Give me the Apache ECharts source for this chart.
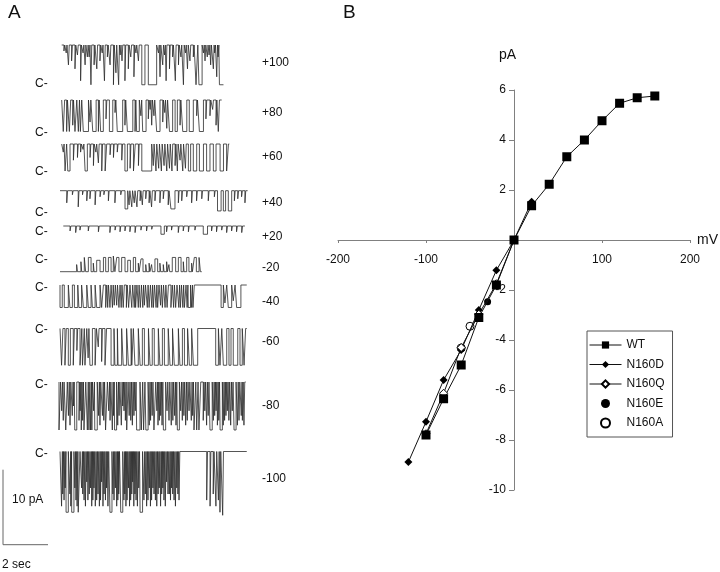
<!DOCTYPE html>
<html><head><meta charset="utf-8">
<script src="https://cdn.jsdelivr.net/npm/echarts@6/dist/echarts.min.js"></script>
<style>html,body{margin:0;padding:0;background:#fff}#c{width:720px;height:572px}</style>
</head><body><div id="c"></div>
<script>
// ---------------- Panel B data (mV, pA) ----------------
const wtV = [-100,-80,-60,-40,-20,0,20,40,60,80,100,120,140,160];
const wtI = [-7.8,-6.35,-5.0,-3.1,-1.8,0,1.37,2.23,3.33,4.0,4.77,5.47,5.69,5.76];
const n160dV = [-120,-100,-80,-60,-40,-20,0,20];
const n160dI = [-8.88,-7.27,-5.6,-4.4,-2.8,-1.21,0,1.53];
const n160qV = [-100,-80,-60,-40,-20,0];
const n160qI = [-7.75,-6.13,-4.3,-2.97,-1.75,0];
const n160eV = [-30];
const n160eI = [-2.47];
const n160aV = [-50,-60];
const n160aI = [-3.45,-4.32];
const seriesNames = ['WT','N160D','N160Q','N160E','N160A'];
const xTicks = [-200,-100,0,100,200];
const yTicks = [-10,-8,-6,-4,-2,0,2,4,6];

// ---------------- Panel A data ----------------
const voltLabels = ['+100','+80','+60','+40','+20','-20','-40','-60','-80','-100'];
const traceAmp = [5.3,4.2,3.6,2.7,1.1,1.9,3.0,4.9,6.4,8.1];   // pA, amplitude of excursions
const traceDir = [1,1,1,1,1,-1,1,1,1,1];                        // 1: excursions drawn downward
const traceDur = [7.19,7.11,7.45,8.34,8.07,6.30,8.30,8.30,8.30,8.30]; // s
// events: [t, depth] brief, or [t0, t1, depth] (s from trace start, depth as fraction of amplitude)
const tr100 = [[0.10,0.15],[0.20,0.2],[0.30,0.5],[0.44,0.4],[0.59,0.6],[0.70,0.25],[0.84,0.9],[0.95,0.2],[1.04,0.5],[1.14,0.3],[1.22,0.3],[1.30,1],[1.44,0.5],[1.56,0.6],[1.70,0.4],[1.80,0.2],[1.90,0.9],[2.03,0.3],[2.15,0.5],[2.30,1],[2.41,0.7],[2.53,1],[2.60,0.25],[2.68,0.4],[2.81,0.9],[2.96,0.6],[3.07,0.3],[3.21,0.8],[3.30,0.2],[3.41,0.4],[3.56,3.70,1],[3.85,4.22,1],[4.30,0.2],[4.37,0.8],[4.49,0.5],[4.57,0.25],[4.64,0.9],[4.79,0.6],[4.93,0.3],[5.05,0.9],[5.19,0.5],[5.30,0.3],[5.41,1],[5.50,0.2],[5.59,0.6],[5.70,0.4],[5.85,0.3],[5.97,6.05,1],[6.10,6.24,1],[6.30,0.2],[6.37,0.4],[6.47,0.3],[6.55,0.25],[6.62,0.5],[6.74,0.6],[6.80,0.2],[6.89,0.8],[6.95,0.3],[7.01,7.19,1]];
const tr80 = [[0.07,0.13,1],[0.22,1],[0.34,0.40,1],[0.49,0.8],[0.59,0.67,1],[0.74,0.79,1],[0.83,0.89,1],[0.96,1.19,1],[1.26,0.7],[1.38,1.53,1],[1.63,1],[1.73,1.85,1],[1.97,0.6],[2.12,2.27,1],[2.37,0.4],[2.47,2.71,1],[2.81,0.8],[2.92,3.16,1],[3.26,1],[3.33,3.45,1],[3.52,0.5],[3.60,3.75,1],[3.85,0.6],[3.93,0.3],[4.00,0.8],[4.10,0.5],[4.22,4.37,1],[4.49,0.7],[4.58,0.4],[4.67,0.9],[4.79,4.93,1],[5.04,5.14,1],[5.26,0.8],[5.38,5.56,1],[5.67,5.85,1],[6.0,0.5],[6.12,6.30,1],[6.41,0.6],[6.59,0.5],[6.71,0.3],[6.86,0.8],[6.96,7.01,1]];
const tr60 = [[0.07,0.3],[0.15,0.22,1],[0.27,0.37,1],[0.52,0.6],[0.70,0.5],[0.84,0.3],[0.95,0.2],[1.04,1.14,1],[1.26,0.5],[1.41,0.8],[1.52,0.3],[1.63,0.7],[1.78,1],[1.93,2.0,1],[2.15,0.4],[2.30,0.5],[2.47,0.3],[2.67,0.6],[2.81,2.92,1],[3.04,0.9],[3.19,3.27,1],[3.41,0.8],[3.56,4.0,1],[4.07,0.8],[4.19,1],[4.31,0.9],[4.43,1],[4.55,0.8],[4.67,1],[4.79,0.9],[4.90,1],[5.04,0.8],[5.14,1],[5.26,0.6],[5.38,1],[5.50,0.9],[5.63,5.73,1],[5.85,6.0,1],[6.12,6.30,1],[6.44,6.59,1],[6.74,6.86,1],[7.04,7.19,1],[7.33,7.41,1]];
const tr40 = [[0.30,0.6],[0.55,0.2],[0.81,0.8],[1.0,0.2],[1.19,0.5],[1.33,0.4],[1.56,0.7],[1.78,0.3],[1.95,0.2],[2.15,0.5],[2.44,0.6],[2.70,0.2],[2.89,3.01,0.9],[3.07,0.7],[3.19,0.8],[3.30,0.6],[3.42,0.8],[3.56,0.5],[3.66,0.7],[3.81,0.4],[3.96,0.6],[4.07,0.8],[4.22,0.5],[4.44,0.6],[4.59,0.4],[4.81,0.7],[4.93,5.11,0.9],[5.26,0.6],[5.41,0.5],[5.63,0.3],[5.85,0.6],[6.07,0.5],[6.30,0.4],[6.59,0.5],[6.86,0.3],[7.0,7.16,1],[7.26,7.36,1],[7.48,7.63,1],[7.75,0.5],[7.90,0.4],[8.07,0.3],[8.22,0.6]];
const tr20 = [[0.30,0.6],[0.55,0.8],[0.74,0.5],[1.11,0.6],[1.56,0.7],[2.07,0.8],[2.30,0.5],[2.52,0.7],[2.74,0.6],[2.96,0.7],[3.19,0.8],[3.45,0.5],[3.70,0.6],[3.93,0.4],[4.34,4.49,1],[4.59,0.7],[4.81,0.5],[5.11,0.8],[5.33,0.6],[5.56,0.7],[5.85,0.5],[6.22,6.41,1],[6.59,0.6],[6.81,0.7],[7.04,0.5],[7.26,0.8],[7.48,0.6],[7.70,0.7],[7.93,0.8]];
const trM20 = [[0.74,0.5],[0.93,0.7],[1.08,1.14,1],[1.26,1.38,1],[1.48,0.6],[1.63,1.78,0.8],[1.93,2.03,1],[2.15,2.27,1],[2.37,2.44,1.1],[2.52,2.62,1],[2.74,2.89,1],[3.01,3.13,0.8],[3.26,3.36,1],[3.48,0.6],[3.60,3.69,0.9],[3.81,0.5],[3.96,0.6],[4.07,0.5],[4.22,4.34,0.9],[4.44,0.6],[4.59,0.5],[4.74,0.7],[4.84,0.5],[4.99,5.14,1],[5.26,5.38,1],[5.48,0.7],[5.63,5.73,1],[5.85,0.6],[5.97,6.06,1],[6.18,6.24,1]];
const trM40 = [[0,0.10,1],[0.19,0.37,1],[0.44,0.55,1],[0.64,0.79,1],[0.84,0.96,1],[1.04,1.19,1],[1.26,1.38,1],[1.44,1.56,1],[1.63,1.78,1],[1.85,1.93,1],[2.03,2.08,1],[2.12,1],[2.22,2.27,1],[2.33,1],[2.41,2.46,0.9],[2.52,0.9],[2.62,2.67,1],[2.72,1],[2.81,2.86,1],[2.95,1],[3.05,3.11,1],[3.19,3.23,1],[3.30,1],[3.36,3.42,1],[3.48,1],[3.57,3.62,1],[3.68,1],[3.75,3.80,0.9],[3.88,1],[3.96,4.02,1],[4.08,1],[4.15,4.20,1],[4.27,1],[4.34,4.40,1],[4.47,0.9],[4.55,4.60,1],[4.67,1],[4.76,4.82,1],[4.93,4.99,1],[5.05,1],[5.14,5.20,1],[5.28,1],[5.35,5.40,1],[5.46,1],[5.53,5.60,1],[5.65,1],[5.70,5.80,1],[5.85,1],[5.91,5.97,1],[7.16,7.26,1],[7.33,7.41,0.8],[7.48,7.63,1],[7.70,7.78,0.7],[7.85,8.04,1]];
const trM60 = [[0.07,0.13,1],[0.22,0.28,1],[0.37,0.46,1],[0.59,0.64,1],[0.75,0.6],[0.89,0.97,1],[1.00,1.08,1],[1.11,1.19,1],[1.25,0.8],[1.33,1.44,1],[1.56,1.62,1],[1.70,0.5],[1.85,0.9],[2.0,2.07,1],[2.27,2.40,1],[2.44,2.55,1],[2.58,2.74,1],[2.81,2.96,1],[3.04,3.16,1],[3.19,3.26,1],[3.33,3.48,1],[3.56,3.66,1],[3.75,3.93,1],[4.0,4.10,1],[4.19,4.37,1],[4.44,4.55,1],[4.64,4.81,1],[4.89,5.0,1],[5.08,5.26,1],[5.33,5.44,1],[5.53,5.67,1],[5.75,5.85,1],[5.93,6.12,1],[6.92,7.04,1],[7.11,7.19,1],[7.26,7.41,1],[7.51,7.60,1],[7.70,7.90,1],[8.0,8.10,1],[8.18,8.25,1]];
const trM80 = [[0,0.07,1],[0.12,0.6],[0.19,0.8],[0.30,0.37,1],[0.42,0.7],[0.49,0.9],[0.59,0.7],[0.64,0.5],[0.70,0.79,1],[0.89,0.8],[0.94,0.6],[0.99,1],[1.05,0.8],[1.11,1.19,1],[1.26,1.30,1],[1.33,1.37,1],[1.40,1.44,1],[1.46,1.49,1],[1.54,0.6],[1.59,1.70,1],[1.76,0.7],[1.82,0.9],[1.93,0.7],[1.99,0.8],[2.07,2.15,1],[2.21,0.6],[2.27,0.8],[2.37,1],[2.42,0.7],[2.47,2.56,1],[2.61,0.9],[2.67,0.7],[2.77,0.9],[2.83,0.5],[2.89,0.6],[2.95,0.8],[3.01,3.07,1],[3.12,0.7],[3.19,0.8],[3.26,0.9],[3.33,0.7],[3.39,0.6],[3.45,3.60,1],[3.66,3.72,1],[3.76,3.82,1],[3.86,3.96,1],[4.01,0.9],[4.07,0.8],[4.14,0.7],[4.22,4.30,1],[4.35,0.6],[4.40,0.9],[4.46,0.8],[4.52,0.7],[4.58,0.9],[4.64,4.74,1],[4.80,0.6],[4.89,0.8],[4.99,0.9],[5.06,0.8],[5.14,0.7],[5.20,0.9],[5.26,5.35,1],[5.41,0.6],[5.48,0.8],[5.55,0.7],[5.63,0.9],[5.70,0.8],[5.78,0.6],[5.88,0.8],[5.94,0.7],[6.0,6.08,1],[6.12,6.18,1],[6.22,6.30,1],[6.41,0.8],[6.48,0.6],[6.56,0.9],[6.63,0.7],[6.71,6.81,1],[6.86,0.8],[6.92,0.7],[6.98,0.6],[7.04,0.9],[7.10,0.8],[7.16,7.26,1],[7.30,0.9],[7.36,0.8],[7.42,0.7],[7.48,0.6],[7.55,0.8],[7.63,0.9],[7.70,0.6],[7.78,7.87,1],[7.93,0.9],[8.0,0.8],[8.10,0.7],[8.15,0.8],[8.22,0.9]];
const trM100 = [[0.07,0.9],[0.12,0.7],[0.18,0.8],[0.23,0.6],[0.27,0.37,1],[0.44,0.7],[0.48,0.9],[0.52,0.62,1],[0.66,0.6],[0.71,0.8],[0.76,0.9],[0.81,0.89,1],[0.96,0.6],[1.01,0.7],[1.07,0.8],[1.13,0.9],[1.19,0.5],[1.24,0.8],[1.30,0.7],[1.36,0.6],[1.41,0.9],[1.46,0.8],[1.51,0.6],[1.57,0.9],[1.63,0.8],[1.69,0.7],[1.75,0.9],[1.80,0.8],[1.85,0.5],[1.91,0.9],[1.96,0.7],[2.02,0.8],[2.07,0.6],[2.13,0.9],[2.22,2.31,1],[2.35,0.7],[2.40,0.8],[2.46,0.6],[2.52,0.9],[2.57,0.8],[2.61,0.7],[2.70,2.79,1],[2.84,0.8],[2.88,0.7],[2.93,0.9],[2.98,0.8],[3.04,0.6],[3.09,0.9],[3.14,0.8],[3.19,0.7],[3.23,0.5],[3.28,0.9],[3.33,0.7],[3.38,0.8],[3.44,0.9],[3.50,0.6],[3.56,3.67,1],[3.73,0.8],[3.79,0.7],[3.85,0.9],[3.91,0.8],[3.97,0.6],[4.02,0.9],[4.07,0.8],[4.13,0.6],[4.18,0.7],[4.24,0.8],[4.30,0.9],[4.36,0.7],[4.41,0.6],[4.47,0.9],[4.52,0.7],[4.57,0.6],[4.62,0.8],[4.68,0.9],[4.74,0.5],[4.80,0.7],[4.86,0.7],[4.91,0.8],[4.96,0.6],[5.01,0.7],[5.07,0.8],[5.13,0.9],[5.19,0.6],[5.24,0.7],[5.29,0.8],[6.52,0.8],[6.67,0.9],[6.81,0.7],[6.93,0.9],[7.04,0.8],[7.11,1],[7.23,1.05]];
const traceEvents = [tr100,tr80,tr60,tr40,tr20,trM20,trM40,trM60,trM80,trM100];
const scaleBar = { pA: 10, sec: 2, labels: ['10 pA','2 sec'] };

// ---------------- layout (pixels) ----------------
const PX_PER_S = 22.5, PX_PER_PA = 7.5;
const traceX0 = [61.7,61.7,61.7,60,63.3,60,60,60,59,60];
const traceBase = [45,100,144,190.7,226,271.7,285,328.5,382,451.5];
const cLabelY = [84,133,171.5,212.5,232,260,287.5,330,385,454];
const vLabelY = [63,113,157,203,237,268,302,342,406,479];
const GB = { left: 338, top: 90, width: 352, height: 400 };

function buildTrace(ev, dur, amp, dir, x0px, basePx) {
  const W = 0.035;
  const x0 = x0px / PX_PER_S, base = basePx / PX_PER_PA;
  const list = ev.map(e => e.length === 2 ? [e[0], e[0] + W, e[1]] : e).sort((a, b) => a[0] - b[0]);
  const pts = [[x0, base]];
  let ended = false;
  for (const [a, b, d] of list) {
    const y = base + dir * amp * d;
    if (b >= dur) { pts.push([x0 + a, base], [x0 + a, y], [x0 + dur, y]); ended = true; break; }
    pts.push([x0 + a, base], [x0 + a, y], [x0 + b, y], [x0 + b, base]);
  }
  if (!ended) pts.push([x0 + dur, base]);
  return pts;
}

const FONT = '"Liberation Sans", Arial, sans-serif';
const series = [];
traceEvents.forEach((ev, i) => {
  series.push({
    type: 'line', xAxisIndex: 0, yAxisIndex: 0, silent: true,
    data: buildTrace(ev, traceDur[i], traceAmp[i], traceDir[i], traceX0[i], traceBase[i]),
    showSymbol: false, symbol: 'none', lineStyle: { color: '#2a2a2a', width: 0.8 },
    legendHoverLink: false
  });
});
// scale bar
const sbX = 3 / PX_PER_S, sbY = 544.7 / PX_PER_PA;
series.push({
  type: 'line', xAxisIndex: 0, yAxisIndex: 0, silent: true, symbol: 'none',
  data: [[sbX, sbY - scaleBar.pA], [sbX, sbY], [sbX + scaleBar.sec, sbY]],
  lineStyle: { color: '#666', width: 1 }
});

const zip = (a, b) => a.map((v, i) => [v, b[i]]);
series.push(
  { name: 'N160D', type: 'line', xAxisIndex: 1, yAxisIndex: 1, data: zip(n160dV, n160dI), symbol: 'diamond', symbolSize: 8,
    lineStyle: { color: '#111', width: 1 }, itemStyle: { color: '#000', opacity: 1 } },
  { name: 'N160Q', type: 'line', xAxisIndex: 1, yAxisIndex: 1, data: zip(n160qV, n160qI), symbol: 'diamond', symbolSize: 8,
    lineStyle: { color: '#111', width: 1 }, itemStyle: { color: '#fff', borderColor: '#000', borderWidth: 1, opacity: 1 } },
  { name: 'WT', type: 'line', xAxisIndex: 1, yAxisIndex: 1, data: zip(wtV, wtI), symbol: 'rect', symbolSize: 9,
    lineStyle: { color: '#111', width: 1 }, itemStyle: { color: '#000', opacity: 1 } },
  { name: 'N160E', type: 'scatter', xAxisIndex: 1, yAxisIndex: 1, data: zip(n160eV, n160eI), symbol: 'circle', symbolSize: 7,
    itemStyle: { color: '#000', opacity: 1 } },
  { name: 'N160A', type: 'scatter', xAxisIndex: 1, yAxisIndex: 1, data: zip(n160aV, n160aI), symbol: 'circle', symbolSize: 8,
    itemStyle: { color: '#fff', borderColor: '#000', borderWidth: 1, opacity: 1 } }
);

function txt(text, x, y, size, align) {
  return { type: 'text', x: x, y: y, silent: true,
    style: { text: text, font: size + 'px ' + FONT, fill: '#111', align: align || 'left', verticalAlign: 'middle',
             textAlign: align || 'left', textVerticalAlign: 'middle' } };
}
const graphics = [txt('A', 8, 13, 19), txt('B', 343, 13, 19), txt('pA', 516, 55, 14, 'right'), txt('mV', 697, 240, 14),
  txt(scaleBar.labels[0], 12, 500, 12), txt(scaleBar.labels[1], 2, 565, 12)];
voltLabels.forEach((v, i) => { graphics.push(txt(v, 262, vLabelY[i], 12)); graphics.push(txt('C-', 35, cLabelY[i], 12)); });

// place both axes of panel B through the origin
const xMin = xTicks[0], xMax = xTicks[xTicks.length - 1], yMin = yTicks[0], yMax = yTicks[yTicks.length - 1];
const yAxisOffset = -GB.width * (0 - xMin) / (xMax - xMin);
const xAxisOffset = -GB.height * (0 - yMin) / (yMax - yMin);

const axisCol = '#808080';
const chart = echarts.init(document.getElementById('c'), null, { renderer: 'canvas' });
chart.setOption({
  animation: false,
  backgroundColor: '#fff',
  grid: [
    { left: 0, top: 0, width: 300, height: 572, outerBoundsMode: 'none' },
    Object.assign({ outerBoundsMode: 'none' }, GB)
  ],
  xAxis: [
    { gridIndex: 0, type: 'value', min: 0, max: 300 / PX_PER_S, show: false },
    { gridIndex: 1, type: 'value', min: xMin, max: xMax, interval: 100, position: 'bottom', offset: xAxisOffset,
      axisLine: { onZero: false, lineStyle: { color: axisCol, width: 1 } },
      axisTick: { show: true, length: 3, lineStyle: { color: axisCol } },
      splitLine: { show: false },
      axisLabel: { margin: 14, color: '#111', fontSize: 12, fontFamily: FONT, formatter: v => v === 0 ? '' : String(v) } }
  ],
  yAxis: [
    { gridIndex: 0, type: 'value', min: 0, max: 572 / PX_PER_PA, inverse: true, show: false },
    { gridIndex: 1, type: 'value', min: yMin, max: yMax, interval: 2, position: 'left', offset: yAxisOffset,
      axisLine: { onZero: false, lineStyle: { color: axisCol, width: 1 } },
      axisTick: { show: true, length: 5, lineStyle: { color: axisCol } },
      splitLine: { show: false },
      axisLabel: { margin: 8, color: '#111', fontSize: 12, fontFamily: FONT, formatter: v => v === 0 ? '' : String(v) } }
  ],
  legend: {
    data: seriesNames, orient: 'vertical', left: 587, top: 331, itemWidth: 32, itemHeight: 9, itemGap: 7.5,
    padding: [8, 8, 8, 2], borderColor: '#555', borderWidth: 1, borderRadius: 0, backgroundColor: '#fff',
    lineStyle: { width: 1 },
    textStyle: { fontSize: 12, color: '#111', fontFamily: FONT }, selectedMode: false
  },
  graphic: graphics,
  series: series
});
</script></body></html>
